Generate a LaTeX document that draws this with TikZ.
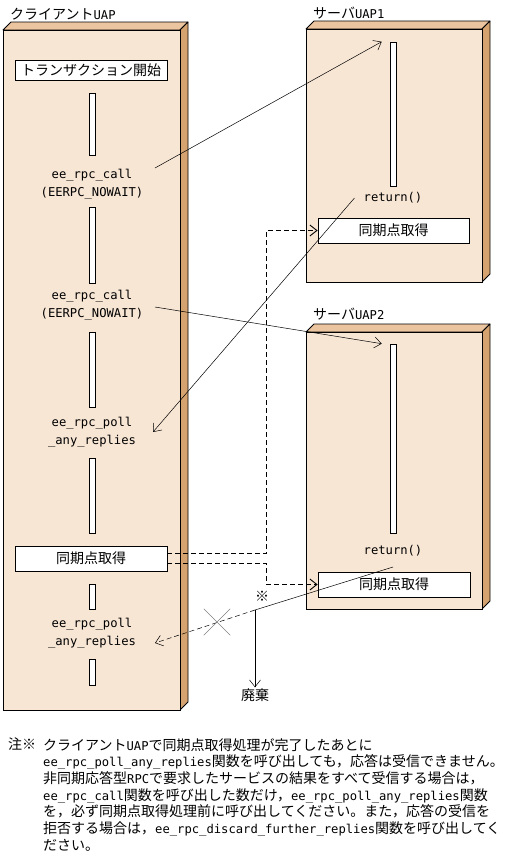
\documentclass[tikz,border=0pt]{standalone}
\usepackage{fontspec}
\setmainfont{Noto Sans CJK JP}
\setmonofont{DejaVu Sans Mono}[Scale=0.87]
\usetikzlibrary{arrows.meta, calc, shapes.misc}
\definecolor{uapface}{HTML}{F8E6D5}
\definecolor{uaptopc}{HTML}{EBC59F}
\definecolor{uapsidec}{HTML}{D5A370}

\tikzset{
  uapfront/.style={draw=black, line width=0.8pt, fill=uapface},
  uaptop/.style={draw=black, line width=0.8pt, fill=uaptopc, line join=round},
  uapside/.style={draw=black, line width=0.8pt, fill=uapsidec, line join=round},
  lifebar/.style={draw=black, fill=white, line width=0.6pt, minimum width=6pt, inner sep=0pt},
  opbox/.style={draw=black, fill=white, line width=0.8pt, minimum width=152pt, minimum height=25pt, inner sep=0pt},
  codelbl/.style={align=center, font=\fontsize{14}{18}\selectfont\ttfamily, inner sep=1pt},
  msg/.style={line width=0.5pt, -{Straight Barb[length=7pt,width=11pt]}},
  syncmsg/.style={msg, line width=0.9pt, dash pattern=on 5pt off 3pt}
}

\begin{document}
\begin{tikzpicture}[x=1pt, y=-1pt, font=\fontsize{14}{17}\selectfont]
  \useasboundingbox (0,0) rectangle (516,857);

  % UAP blocks (client, server 1, server 2)
  \foreach \xl/\xr/\yt/\yb in {3/180/30/710, 306/482/29/282, 306/482/332/609} {
    \fill[uapface] (\xl,\yt) rectangle (\xr,\yb);
    \draw[uaptop] (\xl,\yt) -- ({\xl+8},{\yt-8}) -- ({\xr+8},{\yt-8}) -- (\xr,\yt) -- cycle;
    \draw[uapside] (\xr,\yt) -- ({\xr+8},{\yt-8}) -- ({\xr+8},{\yb-8}) -- (\xr,\yb) -- cycle;
    \draw[uapfront] (\xl,\yt) rectangle (\xr,\yb);
  }

  % Titles
  \node[anchor=west, inner sep=0pt] (ctitle) at (10,14) {クライアント\texttt{UAP}};
  \node[anchor=west, inner sep=0pt] (s1title) at (313,13) {サーバ\texttt{UAP1}};
  \node[anchor=west, inner sep=0pt] (s2title) at (313,314) {サーバ\texttt{UAP2}};

  % Client lifeline
  \node[opbox, minimum height=20pt] (tstart) at (91,70) {トランザクション開始};
  \foreach \yc/\h [count=\i] in {124/62, 245/76, 369.5/75, 495.5/75, 596.5/25, 672/26} {
    \node[lifebar, minimum height=\h] (cbar\i) at (92,\yc) {};
  }
  \node[codelbl] (call1) at (92,184) {ee\_rpc\_call\\(EERPC\_NOWAIT)};
  \node[codelbl] (call2) at (92,305) {ee\_rpc\_call\\(EERPC\_NOWAIT)};
  \node[codelbl] (poll1) at (92,432) {ee\_rpc\_poll\\\_any\_replies};
  \node[opbox] (csync) at (91,558.5) {同期点取得};
  \node[codelbl] (poll2) at (92,633) {ee\_rpc\_poll\\\_any\_replies};

  % Server 1
  \node[lifebar, minimum height=144] (s1bar) at (393,114) {};
  \node[codelbl] (return1) at (393,198) {return()};
  \node[opbox, minimum width=151pt] (s1sync) at (393.5,230.5) {同期点取得};

  % Server 2
  \node[lifebar, minimum height=189] (s2bar) at (393,438.5) {};
  \node[codelbl] (return2) at (393,551) {return()};
  \node[opbox] (s2sync) at (394,584.5) {同期点取得};

  % Message end points
  \coordinate (c1out) at (155,168);
  \coordinate (c2out) at (155,307);
  \coordinate (p1in) at (153,432);
  \coordinate (p2in) at (155,643);
  \coordinate (r1out) at ([xshift=-8pt]return1.west);
  \coordinate (r2out) at ([yshift=-16pt]return2.center);
  \coordinate (disc) at (255,610);

  % Calls and replies
  \draw[msg] (c1out) -- ([xshift=-8pt]s1bar.north west);
  \draw[msg] (c2out) -- ([xshift=-8pt]s2bar.north west);
  \draw[msg] (r1out) -- (p1in);

  % Sync point requests
  \draw[syncmsg] ([yshift=5pt]csync.east) -| ([xshift=-51pt]s1sync.west) -- (s1sync.west);
  \draw[syncmsg] ([yshift=-5pt]csync.east) -| ([xshift=-51pt]s2sync.west) -- (s2sync.west);

  % Late reply, discarded
  \draw[line width=0.5pt] (r2out) -- (disc);
  \draw[msg, dash pattern=on 5pt off 3pt] (disc) -- (p2in);
  \node[cross out, draw=gray, line width=0.5pt, minimum size=26pt, inner sep=0pt] (lost) at (217,622) {};
  \node (mark) at (262,596) {※};
  \node[inner sep=1pt] (discard) at (255,695) {廃棄};
  \draw[msg] (disc) -- (discard.north);

  % Note
  \node[anchor=north west, inner sep=0pt] (notemark) at (8,738) {注※};
  \node[anchor=north west, align=left, inner sep=0pt, font=\fontsize{14}{16.7}\selectfont] (notetext) at (43,738) {%
    クライアント\texttt{UAP}で同期点取得処理が完了したあとに\\
    \texttt{ee\_rpc\_poll\_any\_replies}関数を呼び出しても，応答は受信できません。\\
    非同期応答型\texttt{RPC}で要求したサービスの結果をすべて受信する場合は，\\
    \texttt{ee\_rpc\_call}関数を呼び出した数だけ，\texttt{ee\_rpc\_poll\_any\_replies}関数\\
    を，必ず同期点取得処理前に呼び出してください。また，応答の受信を\\
    拒否する場合は，\texttt{ee\_rpc\_discard\_further\_replies}関数を呼び出してく\\
    ださい。};
\end{tikzpicture}
\end{document}
